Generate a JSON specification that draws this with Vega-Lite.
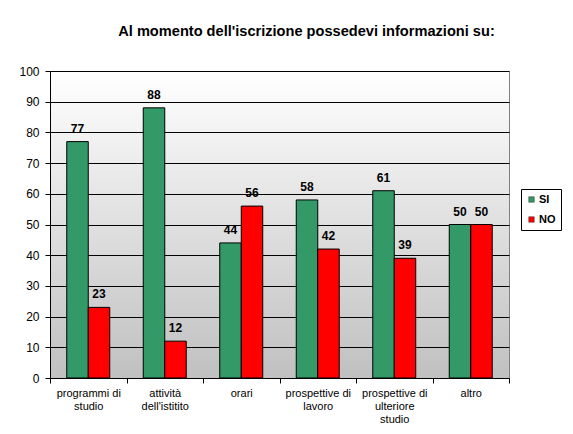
{
  "$schema": "https://vega.github.io/schema/vega-lite/v6.json",
  "width": 459,
  "height": 307,
  "autosize": {"type": "none"},
  "padding": {"left": 50, "top": 71, "right": 64, "bottom": 56},
  "background": "#ffffff",
  "title": {
    "text": "Al momento dell'iscrizione possedevi informazioni su:",
    "font": "Liberation Sans",
    "fontSize": 14.6,
    "fontWeight": "bold",
    "color": "#000000",
    "anchor": "middle",
    "frame": "group",
    "baseline": "alphabetic",
    "offset": 14,
    "dx": 27
  },
  "data": {
    "values": [
      {"voce": "programmi di|studio", "risposta": "SI", "valore": 77},
      {"voce": "programmi di|studio", "risposta": "NO", "valore": 23},
      {"voce": "attività|dell'istitito", "risposta": "SI", "valore": 88},
      {"voce": "attività|dell'istitito", "risposta": "NO", "valore": 12},
      {"voce": "orari", "risposta": "SI", "valore": 44},
      {"voce": "orari", "risposta": "NO", "valore": 56},
      {"voce": "prospettive di|lavoro", "risposta": "SI", "valore": 58},
      {"voce": "prospettive di|lavoro", "risposta": "NO", "valore": 42},
      {"voce": "prospettive  di|ulteriore|studio", "risposta": "SI", "valore": 61},
      {"voce": "prospettive  di|ulteriore|studio", "risposta": "NO", "valore": 39},
      {"voce": "altro", "risposta": "SI", "valore": 50},
      {"voce": "altro", "risposta": "NO", "valore": 50}
    ]
  },
  "encoding": {
    "x": {
      "field": "voce",
      "type": "nominal",
      "sort": null,
      "scale": {"paddingInner": 0, "paddingOuter": 0},
      "axis": {
        "title": null,
        "labelAngle": 0,
        "labelExpr": "split(datum.label, '|')",
        "labelFont": "Liberation Sans",
        "labelFontSize": 11,
        "labelLineHeight": 13,
        "labelColor": "#000000",
        "labelPadding": 4,
        "labelBaseline": "top",
        "tickBand": "extent",
        "tickSize": 5,
        "tickColor": "#000000",
        "domainColor": "#000000",
        "grid": false
      }
    },
    "xOffset": {
      "field": "risposta",
      "type": "nominal",
      "sort": ["SI", "NO"],
      "scale": {"paddingInner": 0, "paddingOuter": 0.78}
    },
    "y": {
      "field": "valore",
      "type": "quantitative",
      "scale": {"domain": [0, 100], "nice": false},
      "axis": {
        "title": null,
        "values": [0, 10, 20, 30, 40, 50, 60, 70, 80, 90, 100],
        "labelFont": "Liberation Sans",
        "labelFontSize": 12,
        "labelColor": "#000000",
        "labelPadding": 6,
        "tickSize": 5,
        "tickColor": "#000000",
        "domainColor": "#000000",
        "grid": true,
        "gridColor": "#000000",
        "gridWidth": 1,
        "gridOpacity": 1
      }
    }
  },
  "layer": [
    {
      "mark": {"type": "bar", "stroke": "#000000", "strokeWidth": 1},
      "encoding": {
        "color": {
          "field": "risposta",
          "type": "nominal",
          "scale": {"domain": ["SI", "NO"], "range": ["#339966", "#ff0000"]},
          "legend": {
            "title": null,
            "orient": "none",
            "legendX": 471,
            "legendY": 118,
            "strokeColor": "#000000",
            "fillColor": "#ffffff",
            "padding": 5,
            "symbolType": "square",
            "symbolSize": 30,
            "symbolStrokeColor": "#333333",
            "symbolStrokeWidth": 0.5,
            "labelFont": "Liberation Sans",
            "labelFontSize": 11,
            "labelFontWeight": "bold",
            "labelColor": "#000000",
            "labelOffset": 2,
            "rowPadding": 8
          }
        }
      }
    },
    {
      "mark": {
        "type": "text",
        "baseline": "alphabetic",
        "dy": -9,
        "font": "Liberation Sans",
        "fontSize": 12,
        "fontWeight": "bold",
        "color": "#000000"
      },
      "encoding": {
        "text": {"field": "valore", "type": "quantitative"}
      }
    }
  ],
  "config": {
    "view": {
      "fill": {
        "gradient": "linear",
        "x1": 0, "y1": 0, "x2": 0, "y2": 1,
        "stops": [
          {"offset": 0, "color": "#ffffff"},
          {"offset": 1, "color": "#c0c0c0"}
        ]
      },
      "stroke": "#808080"
    }
  }
}
